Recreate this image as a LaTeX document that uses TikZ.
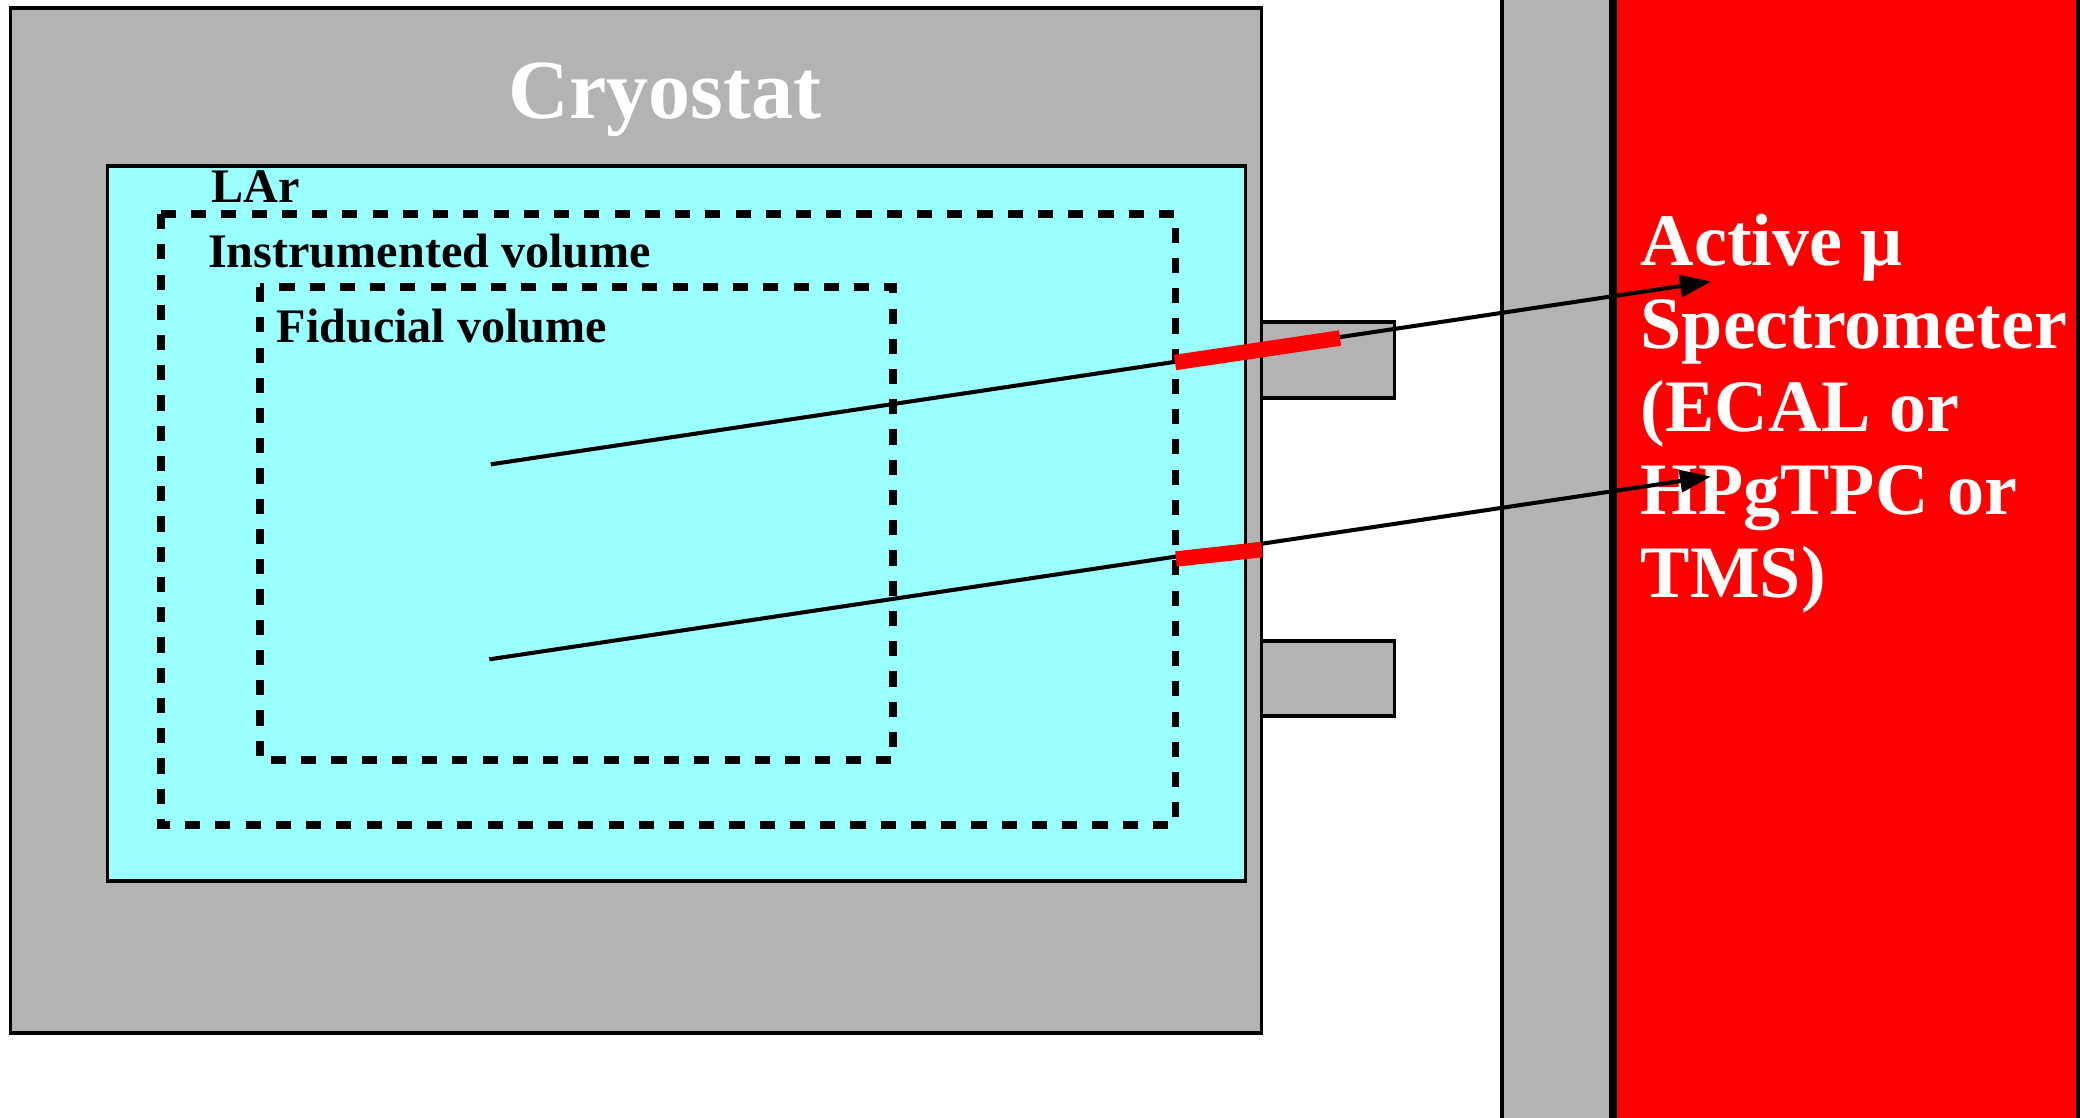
\documentclass[tikz,border=0pt]{standalone}
\usepackage{fontspec}
\setmainfont{Liberation Serif}
\usetikzlibrary{arrows.meta}
\definecolor{wallgray}{RGB}{179,179,179}
\definecolor{lar}{RGB}{153,255,255}
\definecolor{spec}{RGB}{255,0,0}

\begin{document}
\begin{tikzpicture}[x=0.01cm,y=-0.01cm,
  outline/.style={draw=black,line width=1pt,line join=miter},
  volume/.style={draw=black,line width=2.1pt,dash pattern=on 4.3pt off 4.3pt},
  track/.style={draw=black,line width=1.15pt,-{Triangle[length=0.31cm,width=0.22cm]}},
  hit/.style={draw=spec,line width=4.4pt},
  label/.style={font=\bfseries\fontsize{13.7}{16}\selectfont,inner sep=0pt,anchor=base west}]
\useasboundingbox (0,0) rectangle (2080,1117);
\begin{scope}
  \clip (0,0) rectangle (2080,1117);
  % cryostat wall with the liquid argon inside
  \draw[outline,fill=wallgray] (10.5,8) rectangle (1261.5,1033);
  \draw[outline,fill=lar] (107.5,166) rectangle (1245.5,881);
  % instrumented and fiducial volumes
  \draw[volume] (161,214) rectangle (1175.5,825);
  \draw[volume] (260,287) rectangle (893,760);
  % supports on the outside of the cryostat
  \draw[outline,fill=wallgray] (1261.5,322) rectangle (1394.5,398);
  \draw[outline,fill=wallgray] (1261.5,641) rectangle (1394.5,716);
  % steel and the downstream spectrometer
  \draw[outline,fill=wallgray] (1502,-20) rectangle (1611,1140);
  \draw[outline,fill=spec] (1615,-20) rectangle (2078,1140);
\end{scope}

\node[font=\bfseries\fontsize{23.9}{28}\selectfont,text=white,inner sep=0pt,anchor=base] (cryo) at (665,118) {Cryostat};
\node[label] (lar) at (211,202) {LAr};
\node[label] (inst) at (207.5,267) {Instrumented volume};
\node[label] (fid) at (276,342) {Fiducial volume};
\node[font=\bfseries\fontsize{21.05}{23.6}\selectfont,text=white,align=left,inner sep=0pt,anchor=base west] (spectext) at (1640,597)
  {Active μ\\Spectrometer\\(ECAL or\\HPgTPC or\\TMS)};

% muon tracks leaving the argon
\coordinate (v1) at (490.8,464.3);
\coordinate (t1) at (1711,281.5);
\coordinate (v2) at (489.3,659.3);
\coordinate (t2) at (1711,476.5);
\draw[track] (v1) -- (t1);
\draw[track] (v2) -- (t2);
% the part of each track crossing dead material
\coordinate (h1a) at (1175,362.5);
\coordinate (h1b) at (1340,338);
\coordinate (h2a) at (1176,559);
\coordinate (h2b) at (1262,549.5);
\draw[hit] (h1a) -- (h1b);
\draw[hit] (h2a) -- (h2b);
\end{tikzpicture}
\end{document}
